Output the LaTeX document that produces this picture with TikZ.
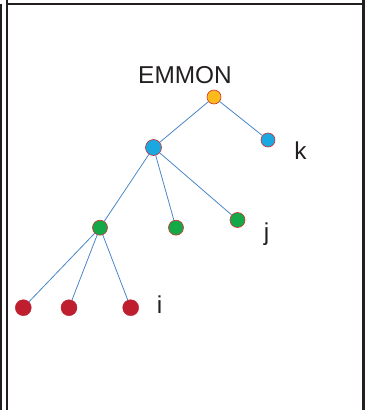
\documentclass[tikz,border=0pt]{standalone}
\usepackage{fontspec}
\setmainfont{Liberation Sans}
\usepackage{xcolor}
\definecolor{framegray}{RGB}{35,31,32}
\definecolor{edgeblue}{RGB}{74,134,200}
\definecolor{rimred}{RGB}{208,48,48}
\definecolor{rootorange}{RGB}{252,186,27}
\definecolor{nodeblue}{RGB}{27,168,224}
\definecolor{nodegreen}{RGB}{20,168,72}
\definecolor{leafred}{RGB}{190,30,45}
\tikzset{
  vertex/.style={circle,draw=rimred,line width=0.6pt,inner sep=0pt,minimum size=#1},
  vertex/.default=14pt,
  leaf/.style={circle,fill=leafred,draw=leafred,inner sep=0pt,minimum size=16pt},
  branch/.style={color=edgeblue,line width=0.8pt},
  tag/.style={color=framegray,font=\fontsize{24.4}{28}\selectfont}
}
\begin{document}
\begin{tikzpicture}[line cap=round,line join=round,x=1pt,y=-1pt]
                \useasboundingbox (0,0) rectangle (366,410);
                \draw [line width=2.2pt,color=framegray,line cap=butt] (7,0)-- (7,410);
                \draw [line width=2.2pt,color=framegray,line cap=butt] (1.2,4)-- (1.2,410);
                \draw [line width=2.2pt,color=framegray,line cap=butt] (6,4)-- (364.5,4);
                \draw [line width=2.2pt,color=framegray,line cap=butt] (363.5,0)-- (363.5,410);
                \node[vertex,fill=rootorange] (O) at (214,97) {};
                \node[vertex,fill=nodeblue] (K) at (268,140) {};
                \node[vertex=16pt,fill=nodeblue] (M) at (153.5,147.5) {};
                \node[vertex=15pt,fill=nodegreen] (G1) at (100,227.7) {};
                \node[vertex=15pt,fill=nodegreen] (G2) at (176,227.7) {};
                \node[vertex=15pt,fill=nodegreen] (G3) at (237.5,220) {};
                \node[leaf] (R1) at (23.3,307.7) {};
                \node[leaf] (R2) at (69,307.7) {};
                \node[leaf] (R3) at (130.7,307.7) {};
                \draw [branch] (O)-- (M);
                \draw [branch] (O)-- (K);
                \draw [branch] (M)-- (G1);
                \draw [branch] (M)-- (G2);
                \draw [branch] (M)-- (G3);
                \draw [branch] (G1)-- (R1);
                \draw [branch] (G1)-- (R2);
                \draw [branch] (G1)-- (R3);
                \node[tag,anchor=base] (title) at (185,83.3) {EMMON};
                \node[tag,anchor=base] (ktag) at (300.5,159) {k};
                \node[tag,anchor=base] (jtag) at (266.5,240) {j};
                \node[tag,anchor=base] (itag) at (159.5,313) {i};
            \end{tikzpicture}
\end{document}
